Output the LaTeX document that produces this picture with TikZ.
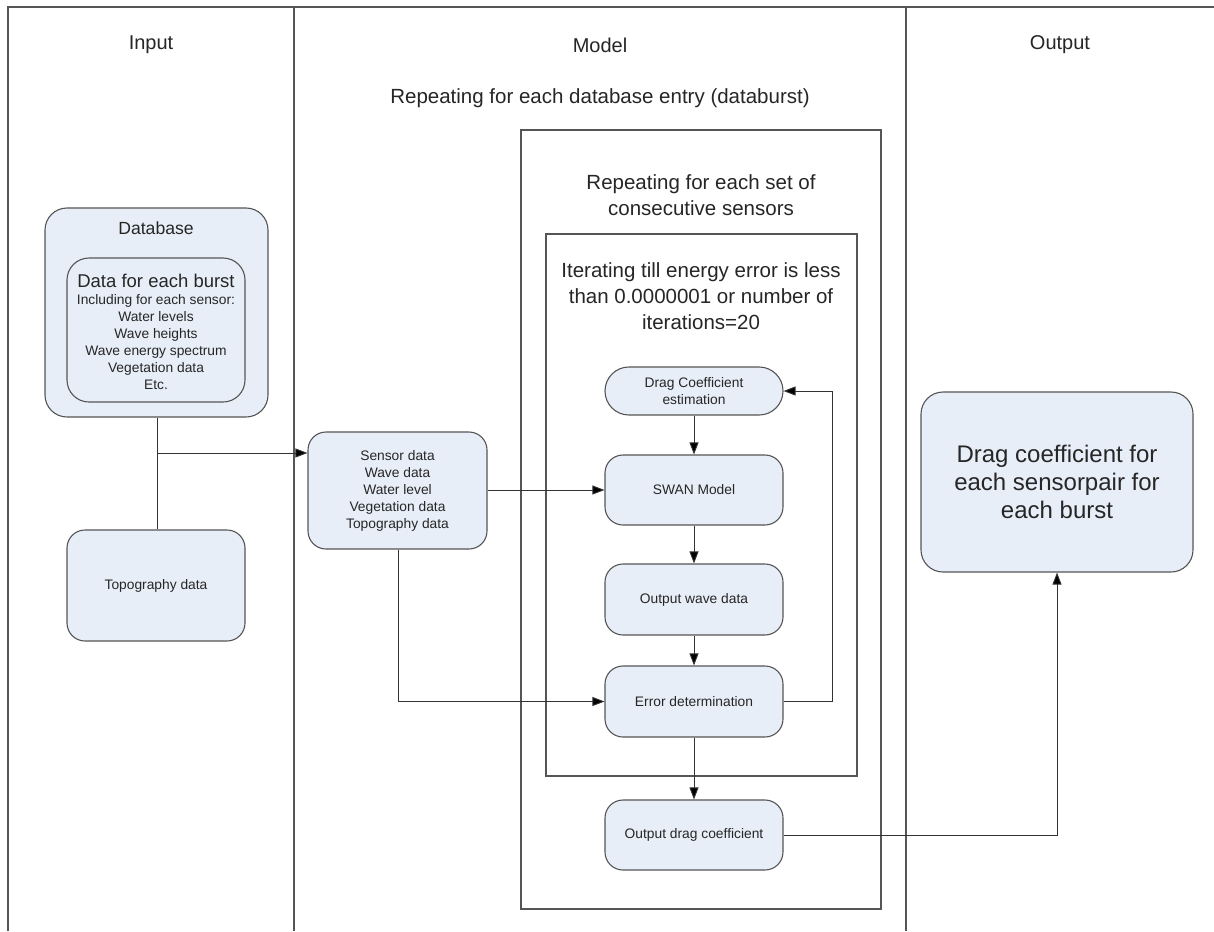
\documentclass[tikz,border=0pt]{standalone}
\usepackage{fontspec}
\setmainfont{Liberation Sans}
\usetikzlibrary{arrows.meta}
\definecolor{boxfill}{HTML}{E8EEF8}
\definecolor{edge}{HTML}{555555}
\definecolor{linec}{HTML}{333333}
\tikzset{
  proc/.style={draw=edge, line width=1.1pt, fill=boxfill, rounded corners=18pt, align=center, inner sep=0pt, text=black!85},
  frame/.style={draw=edge, line width=1.1pt},
  conn/.style={draw=linec, line width=0.9pt},
  arr/.style={conn, -{Triangle[length=12pt,width=9pt,fill=black]}},
  small/.style={font=\fontsize{13.8}{17}\selectfont},
  big/.style={font=\fontsize{20.5}{26}\selectfont, align=center, text=black!85},
  head/.style={font=\fontsize{20}{24}\selectfont, text=black!85},
}
\begin{document}
\begin{tikzpicture}[x=1pt,y=-1pt]
\useasboundingbox (0,0) rectangle (1214,931);
\fill[white] (0,0) rectangle (1214,931);
% swimlane frame
\draw[frame] (8,931) -- (8,7) -- (1214,7);
\draw[frame] (294,7) -- (294,931);
\draw[frame] (906,7) -- (906,931);
\node[head] (hin) at (151,45) {Input};
\node[head] (hmod) at (600,45) {Model};
\node[head] (hout) at (1060,45) {Output};
\node[head, font=\fontsize{20.5}{24}\selectfont] (hrep) at (600,98) {Repeating for each database entry (databurst)};
% loop frames
\draw[frame] (521,130) rectangle (881,909);
\node[big] (hset) at (701,195) {Repeating for each set of\\consecutive sensors};
\draw[frame] (546,234) rectangle (857,776);
\node[big] (hit) at (701,296) {Iterating till energy error is less\\than 0.0000001 or number of\\iterations=20};
% input
\node[proc, minimum width=223pt, minimum height=209pt, rounded corners=22pt] (db) at (156.5,312.5) {};
\node[font=\fontsize{17.6}{20}\selectfont, text=black!85] (dbt) at (156,228) {Database};
\node[proc, minimum width=178pt, minimum height=144pt, rounded corners=22pt] (burst) at (156,330) {};
\node[align=center, text=black!85, inner sep=0pt, font=\fontsize{13.8}{17}\selectfont] (burstt) at (156,332) {{\fontsize{18.5}{20}\selectfont Data for each burst}\\Including for each sensor:\\Water levels\\Wave heights\\Wave energy spectrum\\Vegetation data\\Etc.};
\node[proc, small, minimum width=178pt, minimum height=111pt] (topo) at (156,585.5) {Topography data};
\node[proc, small, minimum width=179pt, minimum height=117pt] (sensor) at (397.5,490.5) {Sensor data\\Wave data\\Water level\\Vegetation data\\Topography data};
% model
\node[proc, small, minimum width=178pt, minimum height=48pt, rounded corners=23.9pt] (drag) at (694,391) {Drag Coefficient\\estimation};
\node[proc, small, minimum width=178pt, minimum height=70pt] (swan) at (694,490) {SWAN Model};
\node[proc, small, minimum width=178pt, minimum height=71pt] (owave) at (694,599.5) {Output wave data};
\node[proc, small, minimum width=178pt, minimum height=71pt] (err) at (694,701.5) {Error determination};
\node[proc, small, minimum width=178pt, minimum height=70pt] (odrag) at (694,835) {Output drag coefficient};
% output
\node[proc, minimum width=272pt, minimum height=180pt, rounded corners=22pt, font=\fontsize{24}{28}\selectfont] (res) at (1057,482) {Drag coefficient for\\each sensorpair for\\each burst};
% connectors
\coordinate (j) at (157,453);
\draw[conn] (db.south -| j) -- (topo.north -| j);
\draw[arr] (j) -- (j -| sensor.west);
\draw[arr] (sensor.east |- swan) -- (swan.west);
\draw[arr] (sensor.south -| 398,0) |- (err.west);
\draw[arr] (drag) -- (swan);
\draw[arr] (swan) -- (owave);
\draw[arr] (owave) -- (err);
\draw[arr] (err) -- (odrag);
\draw[arr] (err.east) -- (832,701.5) |- (drag.east);
\draw[arr] (odrag.east) -| (res.south);
\end{tikzpicture}
\end{document}
